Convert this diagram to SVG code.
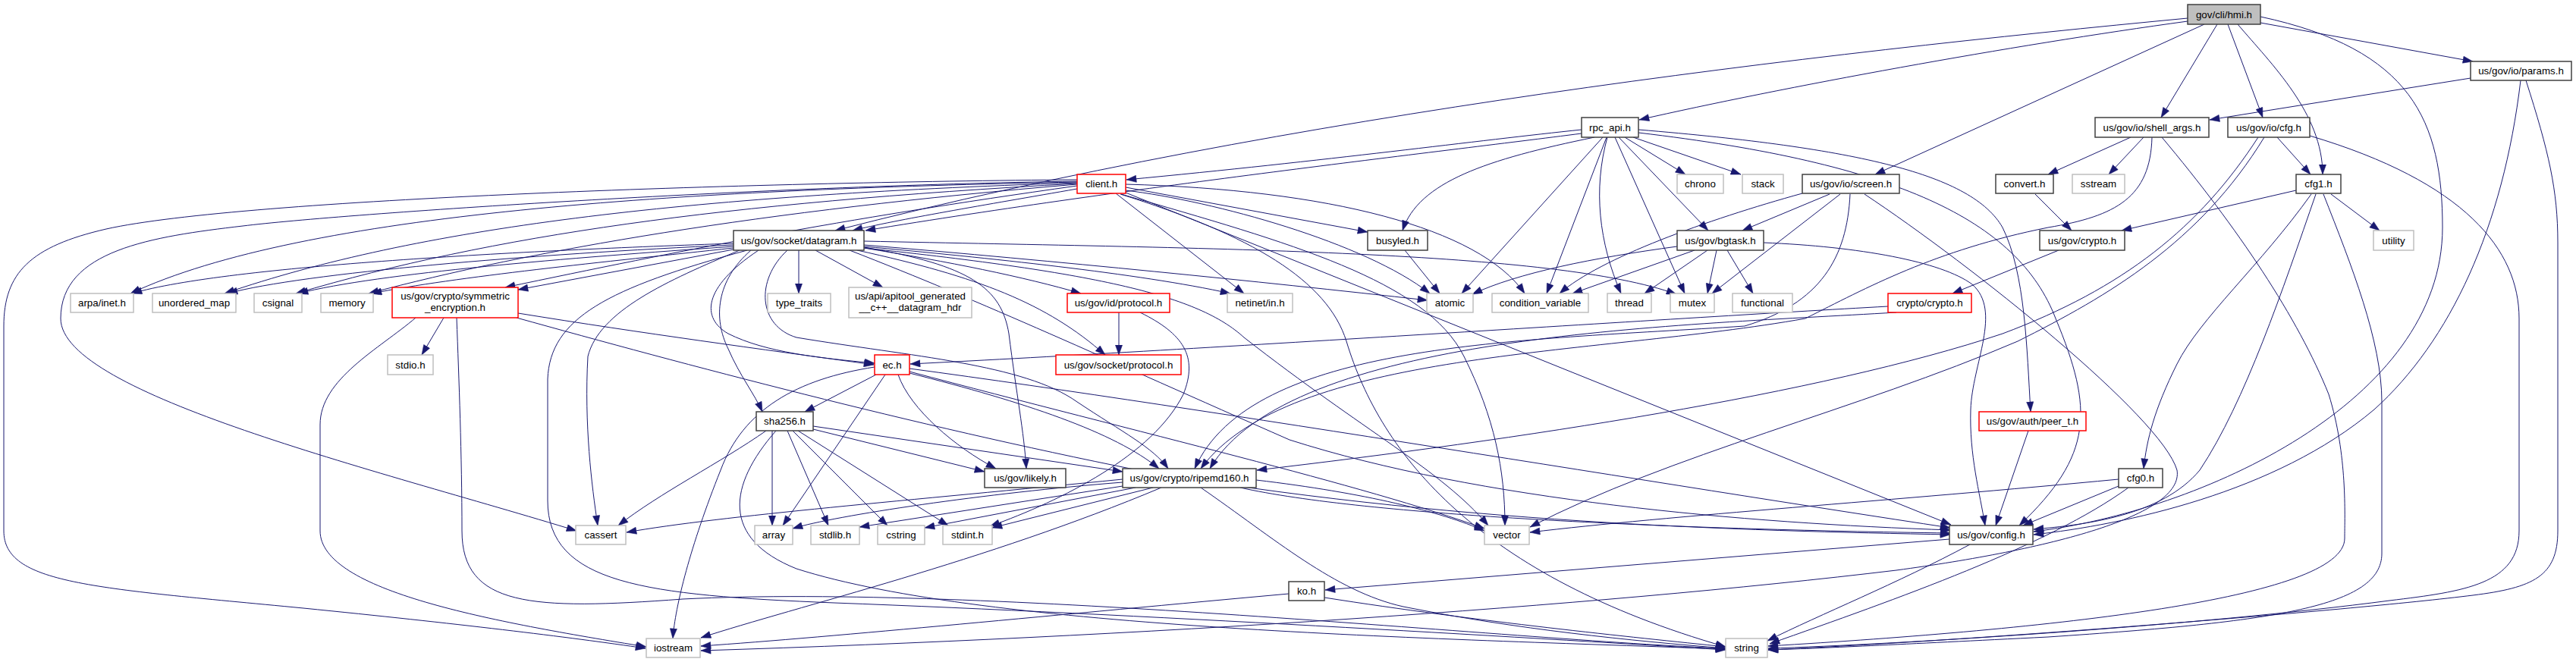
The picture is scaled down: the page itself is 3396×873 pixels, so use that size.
<svg xmlns="http://www.w3.org/2000/svg" width="3396" height="873" viewBox="0 0 3396 873">
<style>
.e path{fill:none;stroke:#191970;stroke-width:1;marker-end:url(#a)}
.n rect{fill:#fff;stroke:#404040;stroke-width:1.5}
.g rect{stroke:#bfbfbf}
.r rect{stroke:#ff0000}
.root rect{fill:#bfbfbf}
text{font-family:"Liberation Sans",Arial,Helvetica,sans-serif;font-size:13.33px;text-anchor:middle;fill:#000}
</style>
<defs>
<marker id="a" markerUnits="userSpaceOnUse" markerWidth="14" markerHeight="10" viewBox="0 0 13 10" refX="13" refY="5" orient="auto"><path d="M0,0.4 L13,5 L0,9.6 z" fill="#191970" stroke="#191970" stroke-width="0.5"/></marker>
</defs>
<rect width="3396" height="873" fill="#fff"/>
<g id="edges" class="e">
<path d="M2884,24 C2400,70 1700,150 1101,304"/>
<path d="M2884,28 C2650,60 2350,115 2161,158"/>
<path d="M2906,32 L2472,230"/>
<path d="M2923,32 L2849,155"/>
<path d="M2937,32 L2983,155"/>
<path d="M2950,32 C2995,85 3062,150 3062,230"/>
<path d="M2980,30 L3260,81"/>
<path d="M2980,22 C3180,65 3220,160 3220,300 C3220,530 2900,675 2681,701"/>
<path d="M3257,103 L2913,158"/>
<path d="M3323,106 C3300,300 3230,450 3130,540 C3000,650 2800,692 2681,705"/>
<path d="M3330,106 C3360,200 3372,250 3372,320 L3372,700 C3372,760 3340,775 3260,785 C3100,805 2600,845 2331,857"/>
<path d="M2085,171 C1950,185 1750,212 1485,237"/>
<path d="M2085,176 C1900,200 1500,245 1141,304"/>
<path d="M2102,181 C1960,210 1870,240 1849,304"/>
<path d="M2113,181 L1927,387"/>
<path d="M2118,181 L2039,387"/>
<path d="M2119,181 C2100,250 2108,320 2137,387"/>
<path d="M2129,181 L2221,387"/>
<path d="M2134,181 L2252,304"/>
<path d="M2142,181 L2222,230"/>
<path d="M2153,181 L2295,230"/>
<path d="M2160,171 C2450,195 2600,230 2640,300 C2670,360 2672,460 2677,543"/>
<path d="M2160,175 C2500,215 2660,290 2710,420 C2760,540 2760,600 2662,693"/>
<path d="M2809,181 L2700,230"/>
<path d="M2826,181 L2780,230"/>
<path d="M2837,181 C2835,260 2790,285 2700,300 C2550,330 2460,380 2380,420 C2100,470 1700,460 1583,618"/>
<path d="M2850,181 C2950,300 3030,420 3070,520 C3095,600 3091,680 3091,710 C3091,790 2700,830 2331,852"/>
<path d="M3002,181 L3046,230"/>
<path d="M2977,181 C2900,300 2800,380 2640,440 C2400,520 2000,580 1657,620"/>
<path d="M2985,181 C2900,320 2780,390 2660,450 C2450,540 2200,600 2017,695"/>
<path d="M3045,179 C3250,240 3321,330 3321,420 L3321,700 C3321,770 3250,780 3150,792 C2900,825 2500,850 2331,855"/>
<path d="M1420,249 C1300,270 1180,290 1124,304"/>
<path d="M1484,247 L1803,306"/>
<path d="M1420,240 C900,250 400,280 172,387"/>
<path d="M1420,241 C900,258 550,300 296,387"/>
<path d="M1420,242 C950,268 650,310 390,387"/>
<path d="M1420,243 C1000,278 700,330 486,387"/>
<path d="M1420,245 C1100,290 900,330 666,379"/>
<path d="M1420,237 C1000,240 320,262 140,302 C40,325 5,360 5,430 L5,700 C5,770 120,775 400,802 C600,822 750,840 851,855"/>
<path d="M1420,239 C1000,245 450,282 320,298 C200,312 80,330 80,420 C80,520 500,620 760,700"/>
<path d="M1484,251 C1600,265 1800,320 1885,387"/>
<path d="M1484,243 C1750,250 1950,300 2010,387"/>
<path d="M1471,255 L1640,387"/>
<path d="M1478,256 C1700,320 1880,370 1930,470 C1970,550 1984,620 1984,693"/>
<path d="M1477,256 C1650,310 1750,370 1775,450 C1820,600 1950,760 2275,853"/>
<path d="M1484,254 L2572,692"/>
<path d="M967,321 C700,330 300,350 174,387"/>
<path d="M967,323 C700,335 400,360 300,387"/>
<path d="M967,325 C750,340 500,360 393,387"/>
<path d="M967,327 C800,345 600,365 490,387"/>
<path d="M967,329 L683,382"/>
<path d="M975,330 C880,370 790,410 775,470 C770,560 780,640 788,693"/>
<path d="M985,330 C800,380 725,420 722,500 L722,660 C722,770 850,785 1100,795 C1500,810 2000,840 2275,857"/>
<path d="M990,330 C944,370 940,420 960,460 C975,495 995,520 1005,543"/>
<path d="M1000,330 C925,380 925,420 960,440 C1010,465 1080,472 1153,479"/>
<path d="M1053,330 L1053,387"/>
<path d="M1075,330 L1164,379"/>
<path d="M1139,327 C1250,345 1350,365 1425,387"/>
<path d="M1139,325 C1300,340 1500,360 1622,387"/>
<path d="M1130,330 C1290,365 1380,400 1457,468"/>
<path d="M1139,326 C1280,350 1320,380 1330,440 C1340,520 1350,570 1353,618"/>
<path d="M1038,330 C995,370 1000,430 1050,445 C1200,470 1350,480 1420,530 C1480,570 1520,590 1540,618"/>
<path d="M1139,327 C1450,360 1580,390 1640,445 C1800,570 1900,620 1962,693"/>
<path d="M1120,330 C1300,400 1450,470 1700,580 C1950,660 2300,690 2572,699"/>
<path d="M1139,318 C1600,328 2050,330 2210,388"/>
<path d="M1139,323 C1400,345 1650,370 1882,396"/>
<path d="M1852,330 L1898,387"/>
<path d="M2211,325 C2100,340 2000,360 1941,388"/>
<path d="M2234,330 L2073,387"/>
<path d="M2251,330 L2168,387"/>
<path d="M2263,330 L2251,387"/>
<path d="M2277,330 L2311,387"/>
<path d="M2325,320 C2450,325 2560,345 2600,375 C2640,410 2600,480 2598,540 C2596,600 2610,650 2617,693"/>
<path d="M2376,255 C2250,290 2110,340 2056,387"/>
<path d="M2412,256 L2297,304"/>
<path d="M2426,256 L2257,387"/>
<path d="M2439,256 C2435,340 2400,400 2300,430 C2000,450 1650,450 1575,618"/>
<path d="M2458,256 C2600,350 2850,550 2870,620 C2880,680 2700,725 2500,752 C2100,800 1500,840 924,858"/>
<path d="M2683,256 L2731,304"/>
<path d="M3027,251 L2797,304"/>
<path d="M3073,256 L3137,304"/>
<path d="M3047,256 C2980,350 2900,420 2870,480 C2840,540 2830,580 2826,618"/>
<path d="M3053,256 C3010,380 2960,530 2900,620 C2850,680 2750,692 2681,698"/>
<path d="M3063,256 C3100,350 3140,450 3140,530 L3140,730 C3140,800 3000,820 2700,840 C2500,850 2400,855 2331,857"/>
<path d="M2714,330 L2574,387"/>
<path d="M2489,404 C2200,420 1600,460 1200,480"/>
<path d="M2500,412 C2200,430 1700,440 1595,618"/>
<path d="M2674,568 L2631,693"/>
<path d="M2793,641 L2667,693"/>
<path d="M2793,632 C2500,660 2200,680 2017,702"/>
<path d="M2806,643 C2700,720 2500,790 2333,849"/>
<path d="M2570,711 L1747,778"/>
<path d="M2597,718 C2500,770 2400,810 2330,845"/>
<path d="M1699,783 C1400,810 1100,840 924,852"/>
<path d="M1746,788 C1950,820 2150,840 2275,853"/>
<path d="M1155,494 L1061,543"/>
<path d="M1167,494 L1032,693"/>
<path d="M1184,494 C1200,540 1260,590 1313,618"/>
<path d="M1199,492 C1350,530 1470,570 1528,618"/>
<path d="M1153,484 C1050,500 980,540 950,620 C910,720 890,800 887,842"/>
<path d="M1199,490 C1500,570 1800,640 1957,697"/>
<path d="M1199,486 C1600,540 2200,640 2571,696"/>
<path d="M1018,568 L1018,693"/>
<path d="M1038,568 L1092,693"/>
<path d="M1045,568 L1170,693"/>
<path d="M1052,568 L1250,693"/>
<path d="M1072,566 L1298,622"/>
<path d="M1072,562 L1480,622"/>
<path d="M1010,568 C950,610 870,650 815,693"/>
<path d="M1023,568 C960,640 950,710 1050,750 C1300,830 1900,842 2275,856"/>
<path d="M1480,636 C1300,650 1100,680 1045,697"/>
<path d="M1480,632 C1200,660 950,680 826,702"/>
<path d="M1480,641 L1133,695"/>
<path d="M1497,643 L1219,696"/>
<path d="M1520,643 L1308,696"/>
<path d="M1656,633 C1800,650 1900,675 1957,700"/>
<path d="M1635,643 C1800,680 2200,698 2571,703"/>
<path d="M1583,643 C1680,710 1760,780 1850,800 C2000,830 2150,845 2275,855"/>
<path d="M1531,643 C1300,740 1050,800 924,841"/>
<path d="M585,419 L556,468"/>
<path d="M548,419 C500,460 422,500 422,560 L422,700 C422,780 650,820 852,853"/>
<path d="M602,419 C605,500 609,600 609,700 C609,800 700,805 900,790 C1300,770 2000,845 2275,855"/>
<path d="M683,413 C850,440 1000,460 1152,481"/>
<path d="M681,419 C900,480 1200,560 1500,620 C1900,690 2300,700 2571,705"/>
<path d="M1475,412 L1475,468"/>
<path d="M1503,412 C1560,440 1580,470 1560,520 C1520,600 1400,660 1305,694"/>
</g>
<g id="hmi" class="n root"><rect x="2884" y="6" width="96" height="26"/><text x="2932" y="23.7">gov/cli/hmi.h</text></g>
<g id="params" class="n"><rect x="3257" y="81" width="133" height="25"/><text x="3323.5" y="98.2">us/gov/io/params.h</text></g>
<g id="rpc_api" class="n"><rect x="2085" y="155" width="75" height="26"/><text x="2122.5" y="172.7">rpc_api.h</text></g>
<g id="shell_args" class="n"><rect x="2762" y="155" width="150" height="26"/><text x="2837" y="172.7">us/gov/io/shell_args.h</text></g>
<g id="cfg" class="n"><rect x="2937" y="155" width="108" height="26"/><text x="2991" y="172.7">us/gov/io/cfg.h</text></g>
<g id="client" class="n r"><rect x="1420" y="230" width="64" height="25"/><text x="1452" y="247.2">client.h</text></g>
<g id="chrono" class="n g"><rect x="2211" y="230" width="61" height="25"/><text x="2241.5" y="247.2">chrono</text></g>
<g id="stack" class="n g"><rect x="2297" y="230" width="54" height="25"/><text x="2324" y="247.2">stack</text></g>
<g id="screen" class="n"><rect x="2376" y="230" width="128" height="25"/><text x="2440" y="247.2">us/gov/io/screen.h</text></g>
<g id="convert" class="n"><rect x="2631" y="230" width="76" height="25"/><text x="2669" y="247.2">convert.h</text></g>
<g id="sstream" class="n g"><rect x="2732" y="230" width="69" height="25"/><text x="2766.5" y="247.2">sstream</text></g>
<g id="cfg1" class="n"><rect x="3027" y="230" width="59" height="25"/><text x="3056.5" y="247.2">cfg1.h</text></g>
<g id="datagram" class="n"><rect x="967" y="304" width="172" height="26"/><text x="1053" y="321.7">us/gov/socket/datagram.h</text></g>
<g id="busyled" class="n"><rect x="1803" y="304" width="79" height="26"/><text x="1842.5" y="321.7">busyled.h</text></g>
<g id="bgtask" class="n"><rect x="2211" y="304" width="114" height="26"/><text x="2268" y="321.7">us/gov/bgtask.h</text></g>
<g id="gov_crypto" class="n"><rect x="2689" y="304" width="112" height="26"/><text x="2745" y="321.7">us/gov/crypto.h</text></g>
<g id="utility" class="n g"><rect x="3129" y="304" width="53" height="26"/><text x="3155.5" y="321.7">utility</text></g>
<g id="arpa_inet" class="n g"><rect x="93" y="387" width="83" height="25"/><text x="134.5" y="404.2">arpa/inet.h</text></g>
<g id="unordered_map" class="n g"><rect x="201" y="387" width="110" height="25"/><text x="256" y="404.2">unordered_map</text></g>
<g id="csignal" class="n g"><rect x="335" y="387" width="63" height="25"/><text x="366.5" y="404.2">csignal</text></g>
<g id="memory" class="n g"><rect x="423" y="387" width="69" height="25"/><text x="457.5" y="404.2">memory</text></g>
<g id="symmetric_encryption" class="n r"><rect x="517" y="379" width="166" height="40"/><text x="600" y="395">us/gov/crypto/symmetric</text><text x="600" y="410">_encryption.h</text></g>
<g id="type_traits" class="n g"><rect x="1012" y="387" width="83" height="25"/><text x="1053.5" y="404.2">type_traits</text></g>
<g id="apitool_hdr" class="n g"><rect x="1119" y="379" width="162" height="40"/><text x="1200" y="395">us/api/apitool_generated</text><text x="1200" y="410">__c++__datagram_hdr</text></g>
<g id="id_protocol" class="n r"><rect x="1407" y="387" width="135" height="25"/><text x="1474.5" y="404.2">us/gov/id/protocol.h</text></g>
<g id="netinet_in" class="n g"><rect x="1618" y="387" width="86" height="25"/><text x="1661" y="404.2">netinet/in.h</text></g>
<g id="atomic" class="n g"><rect x="1881" y="387" width="61" height="25"/><text x="1911.5" y="404.2">atomic</text></g>
<g id="condition_variable" class="n g"><rect x="1967" y="387" width="127" height="25"/><text x="2030.5" y="404.2">condition_variable</text></g>
<g id="thread" class="n g"><rect x="2119" y="387" width="58" height="25"/><text x="2148" y="404.2">thread</text></g>
<g id="mutex" class="n g"><rect x="2202" y="387" width="58" height="25"/><text x="2231" y="404.2">mutex</text></g>
<g id="functional" class="n g"><rect x="2284" y="387" width="79" height="25"/><text x="2323.5" y="404.2">functional</text></g>
<g id="crypto_crypto" class="n r"><rect x="2489" y="387" width="110" height="25"/><text x="2544" y="404.2">crypto/crypto.h</text></g>
<g id="stdio" class="n g"><rect x="511" y="468" width="60" height="26"/><text x="541" y="485.7">stdio.h</text></g>
<g id="ec" class="n r"><rect x="1153" y="468" width="46" height="26"/><text x="1176" y="485.7">ec.h</text></g>
<g id="socket_protocol" class="n r"><rect x="1392" y="468" width="165" height="26"/><text x="1474.5" y="485.7">us/gov/socket/protocol.h</text></g>
<g id="sha256" class="n"><rect x="997" y="543" width="75" height="25"/><text x="1034.5" y="560.2">sha256.h</text></g>
<g id="peer_t" class="n r"><rect x="2609" y="543" width="141" height="25"/><text x="2679.5" y="560.2">us/gov/auth/peer_t.h</text></g>
<g id="likely" class="n"><rect x="1298" y="618" width="107" height="25"/><text x="1351.5" y="635.2">us/gov/likely.h</text></g>
<g id="ripemd160" class="n"><rect x="1480" y="618" width="176" height="25"/><text x="1568" y="635.2">us/gov/crypto/ripemd160.h</text></g>
<g id="cfg0" class="n"><rect x="2793" y="618" width="58" height="25"/><text x="2822" y="635.2">cfg0.h</text></g>
<g id="cassert" class="n g"><rect x="759" y="693" width="66" height="25"/><text x="792" y="710.2">cassert</text></g>
<g id="array" class="n g"><rect x="995" y="693" width="50" height="25"/><text x="1020" y="710.2">array</text></g>
<g id="stdlib" class="n g"><rect x="1069" y="693" width="64" height="25"/><text x="1101" y="710.2">stdlib.h</text></g>
<g id="cstring" class="n g"><rect x="1157" y="693" width="62" height="25"/><text x="1188" y="710.2">cstring</text></g>
<g id="stdint" class="n g"><rect x="1243" y="693" width="65" height="25"/><text x="1275.5" y="710.2">stdint.h</text></g>
<g id="vector" class="n g"><rect x="1957" y="693" width="59" height="25"/><text x="1986.5" y="710.2">vector</text></g>
<g id="config" class="n"><rect x="2570" y="693" width="110" height="25"/><text x="2625" y="710.2">us/gov/config.h</text></g>
<g id="ko" class="n"><rect x="1699" y="767" width="47" height="25"/><text x="1722.5" y="784.2">ko.h</text></g>
<g id="iostream" class="n g"><rect x="852" y="842" width="71" height="25"/><text x="887.5" y="859.2">iostream</text></g>
<g id="string" class="n g"><rect x="2275" y="842" width="55" height="25"/><text x="2302.5" y="859.2">string</text></g>
</svg>
